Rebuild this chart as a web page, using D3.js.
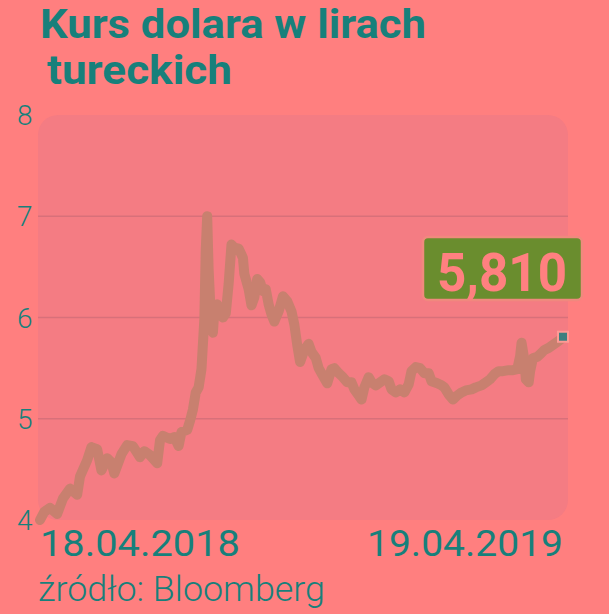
<!DOCTYPE html>
<html>
<head>
<meta charset="utf-8">
<script src="https://cdn.jsdelivr.net/npm/d3@7"></script>
<style>
  html, body { margin: 0; padding: 0; background: #FF7F7F; }
  svg { display: block; }
</style>
</head>
<body>
<svg id="chart" width="609" height="614"></svg>
<script>
// ---- data ----
const startDate = "2018-04-18";
const endDate = "2019-04-19";
// day offsets from 18.04.2018
const dayOffsets = [0,3,7,12,16,21,26,28,33,36,40,43,47,50,52,57,61,65,70,73,77,82,84,86,91,94,97,99,103,105,107,109,111,113,115,116,117,118,120,121,122,124,126,128,130,132,134,136,139,141,142,143,146,148,150,152,154,156,158,160,162,164,167,170,173,176,178,180,182,185,188,190,193,195,197,201,204,206,209,212,215,218,220,223,225,227,230,232,235,238,241,244,246,249,252,255,258,260,263,266,269,272,274,278,281,283,286,289,292,295,298,302,305,309,312,315,318,321,324,328,331,334,336,337,339,340,342,343,345,348,351,353,356,359,362,365,366];
const rates = [4.00,4.08,4.12,4.06,4.21,4.31,4.25,4.43,4.59,4.72,4.70,4.49,4.61,4.57,4.46,4.65,4.74,4.73,4.62,4.68,4.64,4.56,4.79,4.83,4.80,4.82,4.73,4.87,4.89,4.98,5.09,5.26,5.31,5.49,5.98,6.67,7.00,6.48,5.88,5.85,6.06,6.13,6.06,6.00,6.04,6.33,6.72,6.69,6.68,6.62,6.59,6.43,6.28,6.12,6.20,6.38,6.35,6.26,6.28,6.13,6.03,5.96,6.06,6.21,6.16,6.06,5.93,5.73,5.56,5.68,5.74,5.66,5.60,5.50,5.45,5.35,5.49,5.50,5.45,5.41,5.36,5.36,5.29,5.23,5.19,5.31,5.41,5.36,5.33,5.36,5.39,5.37,5.29,5.26,5.29,5.26,5.34,5.47,5.51,5.50,5.45,5.45,5.37,5.35,5.33,5.31,5.24,5.19,5.23,5.26,5.28,5.29,5.31,5.33,5.36,5.39,5.44,5.47,5.47,5.48,5.48,5.49,5.62,5.75,5.58,5.39,5.36,5.47,5.60,5.61,5.65,5.68,5.70,5.73,5.76,5.79,5.81];
const yTicks = [4, 5, 6, 7, 8];
const titleLines = ["Kurs dolara w lirach", " tureckich"];
const dateLabels = ["18.04.2018", "19.04.2019"];
const lastLabel = "5,810";
const sourceText = "źródło: Bloomberg";

// ---- chart ----
const svg = d3.select("#chart");
const parse = d3.timeParse("%Y-%m-%d");
const t0 = parse(startDate), t1 = parse(endDate);
const data = dayOffsets.map((d, i) => ({ date: d3.timeDay.offset(t0, d), value: rates[i] }));

const x = d3.scaleTime().domain([t0, t1]).range([40, 563]);
const y = d3.scaleLinear().domain([4, 8]).range([520, 115]);

const teal = "#17807B";

// panel
svg.append("rect")
  .attr("x", 38).attr("y", 115).attr("width", 530).attr("height", 405)
  .attr("rx", 20).attr("ry", 20)
  .attr("fill", "#F47C83");

// gridlines
svg.append("g").selectAll("line")
  .data(yTicks.filter(d => d > 4 && d < 8))
  .join("line")
  .attr("x1", 38).attr("x2", 568)
  .attr("y1", d => y(d)).attr("y2", d => y(d))
  .attr("stroke", "#D8707A").attr("stroke-width", 1.6);

// y tick labels
svg.append("g").selectAll("text")
  .data(yTicks)
  .join("text")
  .attr("x", 17)
  .attr("y", d => y(d) + 10)
  .attr("font-family", "Roboto, 'DejaVu Sans', sans-serif")
  .attr("font-weight", 300)
  .attr("font-size", 28)
  .attr("fill", teal)
  .text(d => d);

// line
const line = d3.line().x(d => x(d.date)).y(d => y(d.value));
svg.append("path")
  .datum(data)
  .attr("d", line)
  .attr("fill", "none")
  .attr("stroke", "#C8806F")
  .attr("stroke-width", 10)
  .attr("stroke-linejoin", "round")
  .attr("stroke-linecap", "round");

// end marker
const last = data[data.length - 1];
svg.append("rect")
  .attr("x", x(last.date) - 5).attr("y", y(last.value) - 5)
  .attr("width", 10).attr("height", 10)
  .attr("fill", "#3E7F7F")
  .attr("stroke", "#FF9A95").attr("stroke-width", 2);

// value label box
svg.append("rect")
  .attr("x", 423).attr("y", 237).attr("width", 159).attr("height", 63)
  .attr("rx", 5).attr("ry", 5)
  .attr("fill", "#6A8D2E")
  .attr("stroke", "#F0897E").attr("stroke-width", 2.5);
svg.append("text")
  .attr("x", 502).attr("y", 291)
  .attr("text-anchor", "middle")
  .attr("font-family", "Roboto, 'DejaVu Sans', sans-serif")
  .attr("font-weight", 700)
  .attr("font-size", 54)
  .attr("textLength", 130).attr("lengthAdjust", "spacingAndGlyphs")
  .attr("fill", "#FF8080")
  .text(lastLabel);

// title
svg.append("text")
  .attr("x", 40).attr("y", 38)
  .attr("font-family", "Roboto, 'DejaVu Sans', sans-serif")
  .attr("font-weight", 700)
  .attr("font-size", 41)
  .attr("textLength", 386).attr("lengthAdjust", "spacingAndGlyphs")
  .attr("fill", teal)
  .text(titleLines[0]);
svg.append("text")
  .attr("x", 47).attr("y", 84)
  .attr("font-family", "Roboto, 'DejaVu Sans', sans-serif")
  .attr("font-weight", 700)
  .attr("font-size", 41)
  .attr("textLength", 185).attr("lengthAdjust", "spacingAndGlyphs")
  .attr("fill", teal)
  .text(titleLines[1].trim());

// date labels
svg.append("text")
  .attr("x", 40).attr("y", 556)
  .attr("font-family", "Roboto, 'DejaVu Sans', sans-serif")
  .attr("font-weight", 400)
  .attr("font-size", 37)
  .attr("textLength", 200).attr("lengthAdjust", "spacingAndGlyphs")
  .attr("fill", teal)
  .text(dateLabels[0]);
svg.append("text")
  .attr("x", 367).attr("y", 556)
  .attr("font-family", "Roboto, 'DejaVu Sans', sans-serif")
  .attr("font-weight", 400)
  .attr("font-size", 37)
  .attr("textLength", 196).attr("lengthAdjust", "spacingAndGlyphs")
  .attr("fill", teal)
  .text(dateLabels[1]);

// source
svg.append("text")
  .attr("x", 38).attr("y", 601)
  .attr("font-family", "Roboto, 'DejaVu Sans', sans-serif")
  .attr("font-weight", 300)
  .attr("font-size", 35)
  .attr("textLength", 287).attr("lengthAdjust", "spacingAndGlyphs")
  .attr("fill", teal)
  .text(sourceText);
</script>
</body>
</html>
